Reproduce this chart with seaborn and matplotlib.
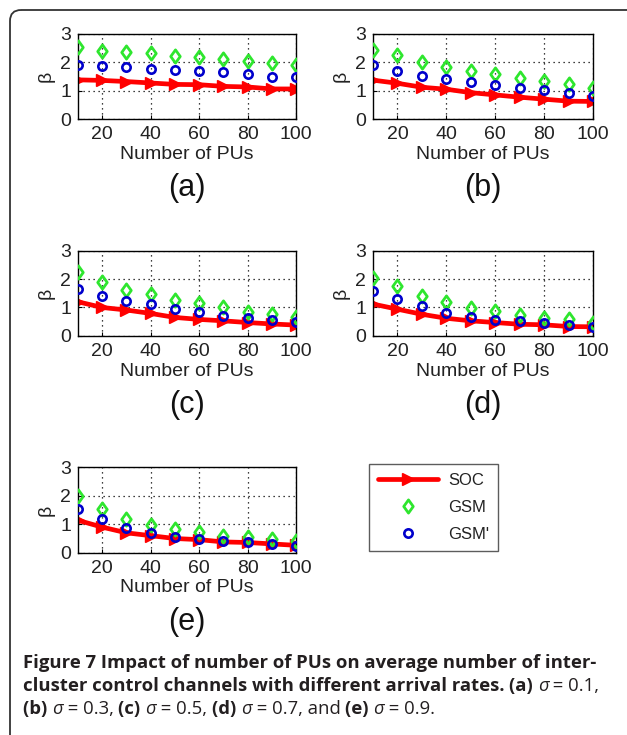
import numpy as np
import pandas as pd
import matplotlib
import matplotlib.pyplot as plt
import seaborn as sns
from matplotlib.patches import FancyBboxPatch
from matplotlib.path import Path

sns.set_style("ticks")
plt.rcParams["font.family"] = ["Liberation Sans", "DejaVu Sans"]

# --- data ---
n_pus = [10, 20, 30, 40, 50, 60, 70, 80, 90, 100]
panel_labels = ["(a)", "(b)", "(c)", "(d)", "(e)"]

soc_a = [1.38, 1.36, 1.32, 1.27, 1.22, 1.21, 1.15, 1.13, 1.06, 1.06]
gsm_a = [2.52, 2.41, 2.36, 2.32, 2.23, 2.18, 2.11, 2.05, 1.99, 1.91]
gsmp_a = [1.91, 1.85, 1.82, 1.77, 1.74, 1.68, 1.64, 1.58, 1.48, 1.48]

soc_b = [1.37, 1.26, 1.12, 1.05, 0.93, 0.85, 0.77, 0.70, 0.63, 0.62]
gsm_b = [2.42, 2.24, 2.01, 1.84, 1.70, 1.60, 1.43, 1.35, 1.22, 1.08]
gsmp_b = [1.92, 1.70, 1.51, 1.42, 1.31, 1.19, 1.08, 1.02, 0.91, 0.81]

soc_c = [1.20, 1.00, 0.91, 0.79, 0.65, 0.58, 0.53, 0.47, 0.42, 0.38]
gsm_c = [2.24, 1.90, 1.63, 1.49, 1.28, 1.14, 1.00, 0.85, 0.77, 0.67]
gsmp_c = [1.66, 1.40, 1.23, 1.12, 0.93, 0.85, 0.71, 0.62, 0.56, 0.50]

soc_d = [1.12, 0.94, 0.76, 0.62, 0.53, 0.47, 0.41, 0.39, 0.33, 0.32]
gsm_d = [2.04, 1.76, 1.41, 1.18, 0.98, 0.86, 0.73, 0.62, 0.59, 0.47]
gsmp_d = [1.59, 1.29, 1.06, 0.82, 0.68, 0.55, 0.53, 0.44, 0.39, 0.32]

soc_e = [1.14, 0.90, 0.70, 0.60, 0.50, 0.46, 0.38, 0.36, 0.31, 0.26]
gsm_e = [1.98, 1.54, 1.20, 0.98, 0.82, 0.72, 0.60, 0.54, 0.50, 0.42]
gsmp_e = [1.54, 1.20, 0.86, 0.70, 0.56, 0.48, 0.42, 0.36, 0.30, 0.24]

soc_all = [soc_a, soc_b, soc_c, soc_d, soc_e]
gsm_all = [gsm_a, gsm_b, gsm_c, gsm_d, gsm_e]
gsmp_all = [gsmp_a, gsmp_b, gsmp_c, gsmp_d, gsmp_e]

RED = "#ff0000"
GREEN = "#2ee62e"
BLUE = "#0000cc"
TXT = "#222222"

# MATLAB-like diamond (a bit wider than matplotlib's thin diamond)
diamond = Path([(0, 1), (0.72, 0), (0, -1), (-0.72, 0), (0, 1)],
               [Path.MOVETO, Path.LINETO, Path.LINETO, Path.LINETO, Path.CLOSEPOLY])

fig = plt.figure(figsize=(6.27, 7.35), dpi=100)

# background overlay for frame + caption
bg = fig.add_axes([0, 0, 1, 1])
bg.set_xlim(0, 627)
bg.set_ylim(735, 0)
bg.axis("off")
frame = FancyBboxPatch((10, 10), 700, 800, boxstyle="round,pad=0,rounding_size=11",
                       fc="none", ec="#333333", lw=1.3)
bg.add_patch(frame)

positions = [
    [0.1244, 0.838, 0.3477, 0.116],
    [0.5949, 0.838, 0.3509, 0.116],
    [0.1244, 0.543, 0.3477, 0.116],
    [0.5949, 0.543, 0.3509, 0.116],
    [0.1244, 0.248, 0.3477, 0.116],
]

for i, pos in enumerate(positions):
    ax = fig.add_axes(pos)
    sns.lineplot(x=n_pus, y=soc_all[i], ax=ax, color=RED, lw=3.4, marker=">",
                 markersize=8.5, markerfacecolor=RED, markeredgecolor=RED,
                 markeredgewidth=1, label="SOC", legend=False, zorder=2)
    sns.lineplot(x=n_pus, y=gsm_all[i], ax=ax, color=GREEN, linestyle="", marker=diamond,
                 markersize=9.5, markerfacecolor="none", markeredgecolor=GREEN,
                 markeredgewidth=2, label="GSM", legend=False, zorder=3)
    sns.lineplot(x=n_pus, y=gsmp_all[i], ax=ax, color=BLUE, linestyle="", marker="o",
                 markersize=6, markerfacecolor="none", markeredgecolor=BLUE,
                 markeredgewidth=1.9, label="GSM'", legend=False, zorder=4)
    ax.set_xlim(10, 100)
    ax.set_ylim(0, 3)
    ax.set_xticks([20, 40, 60, 80, 100])
    ax.set_yticks([0, 1, 2, 3])
    ax.grid(True, color="black", linestyle=(0, (1, 3)), linewidth=0.9)
    ax.tick_params(direction="in", length=3, labelsize=14, pad=5, color="black",
                   labelcolor=TXT)
    for sp in ax.spines.values():
        sp.set_color("black")
        sp.set_linewidth(1.0)
    ax.set_xlabel("Number of PUs", fontsize=14, labelpad=2, color=TXT)
    ax.set_ylabel("\u03b2", fontsize=14, labelpad=4, color=TXT)
    ax.text(0.5, -0.81, panel_labels[i], transform=ax.transAxes, ha="center",
            va="center", fontsize=22, color="#111111")
    if i == 0:
        handles, labels = ax.get_legend_handles_labels()

leg = fig.legend(handles, labels, loc="upper left", bbox_to_anchor=(0.5885, 0.3687),
                 fontsize=12, frameon=True, fancybox=False, edgecolor="#333333",
                 handlelength=3.6, labelspacing=0.72, borderpad=0.55,
                 handletextpad=0.6, borderaxespad=0)
leg.get_frame().set_linewidth(1.0)
for t in leg.get_texts():
    t.set_color(TXT)

# caption built from bold / regular / italic pieces
cap_font = ["Open Sans", "DejaVu Sans"]
cap_size = 13.3
caption_lines = [
    [("Figure 7 Impact of number of PUs on average number of inter-", "bold", "normal")],
    [("cluster control channels with different arrival rates. ", "bold", "normal"),
     ("(a) ", "bold", "normal"), ("\u03c3", "normal", "italic"), (" = 0.1,", "normal", "normal")],
    [("(b) ", "bold", "normal"), ("\u03c3", "normal", "italic"), (" = 0.3, ", "normal", "normal"),
     ("(c) ", "bold", "normal"), ("\u03c3", "normal", "italic"), (" = 0.5, ", "normal", "normal"),
     ("(d) ", "bold", "normal"), ("\u03c3", "normal", "italic"), (" = 0.7, and ", "normal", "normal"),
     ("(e) ", "bold", "normal"), ("\u03c3", "normal", "italic"), (" = 0.9.", "normal", "normal")],
]
line_y = [672, 695, 718]
for y, segs in zip(line_y, caption_lines):
    prev = None
    for txt, weight, style in segs:
        if prev is None:
            prev = bg.annotate(txt, xy=(23, y), xycoords="data", ha="left", va="bottom",
                               fontsize=cap_size, fontweight=weight, fontstyle=style,
                               family=cap_font, color="#231f20")
        else:
            prev = bg.annotate(txt, xy=(1, 0), xycoords=prev, ha="left", va="bottom",
                               fontsize=cap_size, fontweight=weight, fontstyle=style,
                               family=cap_font, color="#231f20")

fig.savefig("out.png", dpi=100)
